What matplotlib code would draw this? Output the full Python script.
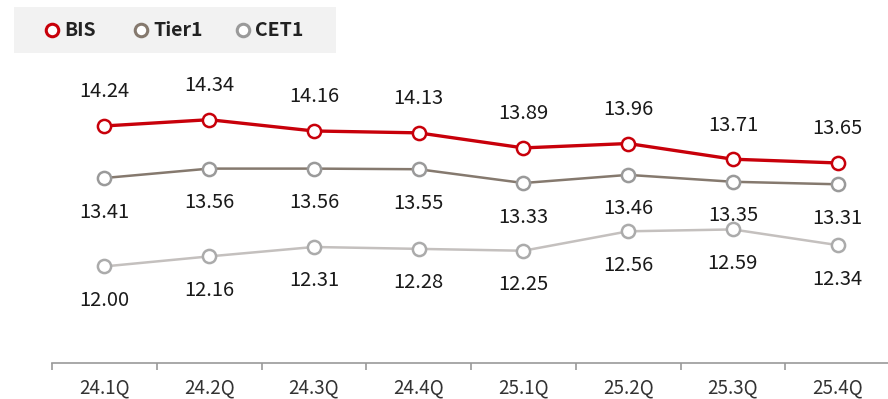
import matplotlib
matplotlib.use("Agg")
import matplotlib.pyplot as plt
from matplotlib.lines import Line2D
from matplotlib.patches import Rectangle

plt.rcParams["font.family"] = ["Noto Sans CJK KR", "DejaVu Sans"]

quarters = ["24.1Q", "24.2Q", "24.3Q", "24.4Q", "25.1Q", "25.2Q", "25.3Q", "25.4Q"]
bis = [14.24, 14.34, 14.16, 14.13, 13.89, 13.96, 13.71, 13.65]
tier1 = [13.41, 13.56, 13.56, 13.55, 13.33, 13.46, 13.35, 13.31]
cet1 = [12.00, 12.16, 12.31, 12.28, 12.25, 12.56, 12.59, 12.34]

RED = "#c8000a"
BROWN = "#85796e"
LGRAY = "#c4c0be"
MGRAY = "#9a9a9a"

W, H = 888, 399
fig = plt.figure(figsize=(W / 100, H / 100), dpi=100)
# axes placed in pixel terms: x from 52 to 890, y from 62 (top) to 363 (axis line)
ax = fig.add_axes([52 / W, 1 - 363 / H, 838 / W, (363 - 62) / H])
ax.set_xlim(-0.5, 7.5)
ax.set_ylim(10.46, 15.26)

x = range(len(quarters))
# (values, line colour, marker edge colour, line width, label side)
series = [
    (bis, RED, RED, 2.4, 1),
    (tier1, BROWN, MGRAY, 1.8, -1),
    (cet1, LGRAY, "#ababab", 1.8, -1),
]
for vals, lc, mc, lw, side in series:
    ax.plot(x, vals, color=lc, lw=lw, zorder=2)
    ax.plot(x, vals, ls="none", marker="o", markersize=9.5, markerfacecolor="white",
            markeredgecolor=mc, markeredgewidth=1.8, zorder=3)
    for i, v in enumerate(vals):
        ax.annotate(f"{v:.2f}", (i, v), xytext=(0, 34 * side), textcoords="offset pixels",
                    ha="center", va="center", fontsize=14.5, color="#1a1a1a")

# x axis: bottom spine with ticks on category boundaries
for s in ("top", "right", "left"):
    ax.spines[s].set_visible(False)
ax.spines["bottom"].set_color("#999999")
ax.spines["bottom"].set_linewidth(1.2)
ax.set_yticks([])
ax.set_xticks([i - 0.5 for i in range(len(quarters) + 1)])
ax.set_xticklabels([])
ax.tick_params(axis="x", length=5, width=1.2, color="#999999", direction="out")
for i, q in enumerate(quarters):
    ax.annotate(q, (i, 0), xycoords=("data", "axes fraction"), xytext=(0, -25),
                textcoords="offset pixels", ha="center", va="center",
                fontsize=13.5, color="#333333")

# legend box
fig.patches.append(Rectangle((14 / W, 1 - 53 / H), (336 - 14) / W, 46 / H,
                             transform=fig.transFigure, facecolor="#f2f2f2",
                             edgecolor="none", zorder=0))
legend_items = [("BIS", RED, 52), ("Tier1", BROWN, 141), ("CET1", MGRAY, 243)]
for lab, c, px in legend_items:
    fig.add_artist(Line2D([px / W], [1 - 30 / H], ls="none", marker="o", markersize=9,
                          markerfacecolor="white", markeredgecolor=c,
                          markeredgewidth=2.2, transform=fig.transFigure))
    fig.text((px + 12) / W, 1 - 30 / H, lab, ha="left", va="center", fontsize=14,
             fontweight="bold", color="#222222")

fig.savefig("out.png", dpi=100)
